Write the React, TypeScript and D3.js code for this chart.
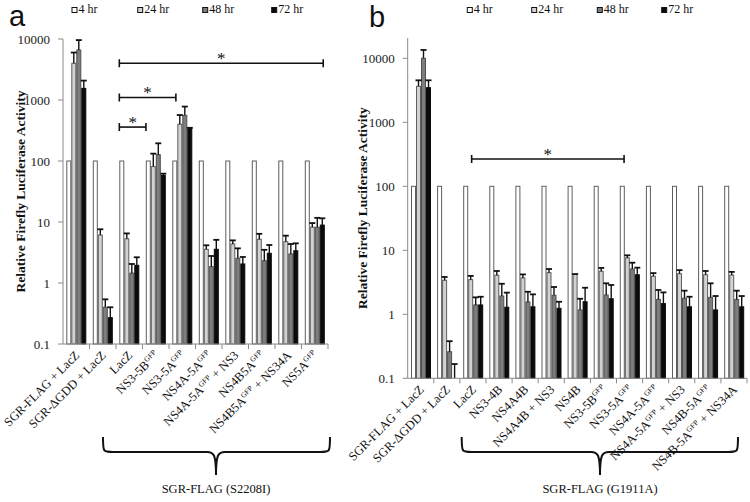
import React from "react";
import * as d3 from "d3";

// ---------- shared ----------
const seriesLabels = ["4 hr", "24 hr", "48 hr", "72 hr"];
const seriesFill = ["#ffffff", "#d2d2d2", "#7e7e7e", "#0b0b0b"];
const seriesStroke = ["#5e5e5e", "#5e5e5e", "#505050", "#0b0b0b"];
const yTicks = [0.1, 1, 10, 100, 1000, 10000];
const yTickLabels = ["0.1", "1", "10", "100", "1000", "10000"];
const yTitle = "Relative Firefly Luciferase Activity";

// ---------- panel a ----------
const categoriesA = [
  "SGR-FLAG + LacZ",
  "SGR-\u0394GDD + LacZ",
  "LacZ",
  "NS3-5B{GFP}",
  "NS3-5A{GFP}",
  "NS4A-5A{GFP}",
  "NS4A-5A{GFP} + NS3",
  "NS4B5A{GFP}",
  "NS4B5A{GFP} + NS34A",
  "NS5A{GFP}",
];
const hr4A = [100, 100, 100, 100, 100, 100, 100, 100, 100, 100];
const hr24A = [4000, 6.1, 5.3, 81, 400, 3.57, 4.36, 5.2, 4.75, 8.2];
const hr48A = [6600, 0.4, 1.45, 127, 560, 1.85, 2.54, 2.32, 2.99, 8.2];
const hr72A = [1550, 0.27, 1.95, 58, 340, 3.57, 2.05, 3.07, 3.38, 8.9];
const err24A = [6000, 7.6, 6.5, 132, 567, 4.15, 5.0, 6.4, 5.97, 9.6];
const err48A = [9600, 0.54, 2.05, 195, 780, 2.77, 3.7, 3.5, 4.36, 11.7];
const err72A = [2080, 0.4, 2.64, 62, 350, 5.1, 2.67, 4.2, 4.47, 11.5];
// significance brackets: [start category position, end category position, height value]
const bracketsA = [
  [2.125, 9.82, 4000],
  [2.125, 4.26, 1100],
  [2.125, 3.13, 360],
];
const groupLabelA = "SGR-FLAG (S2208I)";

// ---------- panel b ----------
const categoriesB = [
  "SGR-FLAG + LacZ",
  "SGR-\u0394GDD + LacZ",
  "LacZ",
  "NS3-4B",
  "NS4A4B",
  "NS4A4B + NS3",
  "NS4B",
  "NS3-5B{GFP}",
  "NS3-5A{GFP}",
  "NS4A-5A{GFP}",
  "NS4A-5A{GFP} + NS3",
  "NS4B-5A{GFP}",
  "NS4B-5A{GFP} + NS34A",
];
const hr4B = [100, 100, 100, 100, 100, 100, 100, 100, 100, 100, 100, 100, 100];
const hr24B = [3650, 3.4, 3.48, 4.07, 3.7, 4.47, 4.2, 4.7, 7.6, 3.93, 4.3, 4.15, 4.1];
const hr48B = [10000, 0.26, 1.4, 1.93, 1.56, 1.98, 1.17, 2.0, 5.1, 1.71, 1.78, 1.84, 1.71];
const hr72B = [3480, 0.1, 1.4, 1.29, 1.31, 1.24, 1.57, 1.75, 4.15, 1.47, 1.31, 1.17, 1.31];
const err24B = [4530, 3.83, 3.98, 4.75, 4.2, 5.1, 4.25, 5.3, 8.35, 4.4, 4.9, 4.75, 4.6];
const err48B = [13500, 0.38, 1.84, 3.0, 2.25, 2.67, 1.75, 3.05, 6.4, 2.4, 2.34, 3.05, 2.34];
const err72B = [4530, 0.167, 1.88, 2.18, 2.05, 1.57, 2.6, 2.87, 5.35, 2.2, 1.88, 1.93, 1.93];
const bracketsB = [[2.45, 8.29, 267]];
const groupLabelB = "SGR-FLAG (G1911A)";

const SERIF = "'Liberation Serif', 'Times New Roman', serif";
const SANS = "'Liberation Sans', Arial, sans-serif";
const LABEL_SIZE = 12.5;
const SUP_SIZE = 7.5;

function parseLabel(s: string) {
  const parts: { t: string; sup: boolean }[] = [];
  const re = /\{([^}]*)\}/g;
  let last = 0;
  let m;
  while ((m = re.exec(s)) !== null) {
    if (m.index > last) parts.push({ t: s.slice(last, m.index), sup: false });
    parts.push({ t: m[1], sup: true });
    last = m.index + m[0].length;
  }
  if (last < s.length) parts.push({ t: s.slice(last), sup: false });
  return parts;
}

function LabelText({ label, x, y }: { label: string; x: number; y: number }) {
  const parts = parseLabel(label);
  let shifted = false;
  return (
    <text
      transform={`translate(${x},${y}) rotate(-45)`}
      textAnchor="end"
      fontFamily={SERIF}
      fontSize={LABEL_SIZE}
      fill="#111"
    >
      {parts.map((p, i) => {
        let dy: number | undefined = undefined;
        if (p.sup && !shifted) {
          dy = -4.5;
          shifted = true;
        } else if (!p.sup && shifted) {
          dy = 4.5;
          shifted = false;
        }
        return (
          <tspan key={i} dy={dy} fontSize={p.sup ? SUP_SIZE : LABEL_SIZE}>
            {p.t}
          </tspan>
        );
      })}
    </text>
  );
}

type PanelProps = {
  letter: string;
  letterX: number;
  letterY: number;
  categories: string[];
  series: number[][];
  errs: (number[] | null)[];
  brackets: number[][];
  groupLabel: string;
  x0: number;
  x1: number;
  yMin: number; // pixel for 0.1
  yMax: number; // pixel for 10000
  axisTop: number;
  legendX: number[];
  titleX: number;
  braceX: [number, number];
  braceMidX: number;
};

function Panel(p: PanelProps) {
  const y = d3.scaleLog().domain([0.1, 10000]).range([p.yMin, p.yMax]);
  const x = d3
    .scaleBand<number>()
    .domain(p.categories.map((_, i) => i))
    .range([p.x0, p.x1])
    .paddingInner(0)
    .paddingOuter(0);
  const bw = x.bandwidth();
  const xs = d3
    .scaleBand<number>()
    .domain([0, 1, 2, 3])
    .range([3.3, 23.3])
    .padding(0);
  const barW = xs.bandwidth();
  const posX = (pos: number) => p.x0 + pos * bw;

  const base = 0.1;
  const titleY = (p.axisTop + p.yMin) / 2;

  const [bx1, bx2] = p.braceX;
  const bTop = 437;
  const bMid = 452;
  const bTip = 475;
  const bm = p.braceMidX;
  const bracePath =
    `M${bx1},${bTop} C${bx1},${bMid} ${bx1},${bMid} ${bx1 + 10},${bMid} ` +
    `L${bm - 9},${bMid} C${bm - 2},${bMid} ${bm},${bMid + 3} ${bm},${bTip} ` +
    `M${bx2},${bTop} C${bx2},${bMid} ${bx2},${bMid} ${bx2 - 10},${bMid} ` +
    `L${bm + 9},${bMid} C${bm + 2},${bMid} ${bm},${bMid + 3} ${bm},${bTip}`;

  return (
    <g>
      {/* panel letter */}
      <text x={p.letterX} y={p.letterY} fontFamily={SANS} fontSize={29} fill="#111">
        {p.letter}
      </text>
      {/* legend */}
      {seriesLabels.map((s, i) => (
        <g key={s}>
          <rect
            x={p.legendX[i]}
            y={7.5}
            width={5}
            height={5}
            fill={seriesFill[i]}
            stroke="#111"
            strokeWidth={1}
          />
          <text x={p.legendX[i] + 6.5} y={12.8} fontFamily={SERIF} fontSize={12} fill="#111">
            {s}
          </text>
        </g>
      ))}
      {/* y axis title */}
      <text
        transform={`translate(${p.titleX},${titleY}) rotate(-90)`}
        textAnchor="middle"
        fontFamily={SERIF}
        fontWeight="bold"
        fontSize={13.5}
        fill="#111"
      >
        {yTitle}
      </text>
      {/* y axis */}
      <line x1={p.x0} x2={p.x0} y1={p.axisTop} y2={p.yMin} stroke="#8a8a8a" strokeWidth={1} />
      {yTicks.map((t, i) => (
        <g key={t}>
          <line x1={p.x0 - 5} x2={p.x0} y1={y(t)} y2={y(t)} stroke="#8a8a8a" strokeWidth={1} />
          <text
            x={p.x0 - 13}
            y={y(t) + 4.5}
            textAnchor="end"
            fontFamily={SERIF}
            fontSize={13}
            fill="#222"
          >
            {yTickLabels[i]}
          </text>
        </g>
      ))}
      {/* bars */}
      {p.categories.map((_, ci) =>
        p.series.map((vals, si) => {
          const v = vals[ci];
          const top = y(Math.max(v, base));
          const h = y(base) - top;
          if (h < 0.5) return null;
          const bx = (x(ci) as number) + (xs(si) as number);
          return (
            <rect
              key={`b${ci}-${si}`}
              x={bx + 0.5}
              y={top}
              width={barW - 1}
              height={h}
              fill={seriesFill[si]}
              stroke={seriesStroke[si]}
              strokeWidth={1}
            />
          );
        })
      )}
      {/* error bars */}
      {p.categories.map((_, ci) =>
        p.errs.map((ev, si) => {
          if (!ev) return null;
          const v = p.series[si][ci];
          const e = ev[ci];
          const cx = (x(ci) as number) + (xs(si) as number) + barW / 2;
          const y1 = y(Math.max(v, base));
          const y2 = y(e);
          return (
            <g key={`e${ci}-${si}`} stroke="#111" strokeWidth={1.4}>
              <line x1={cx} x2={cx} y1={y1} y2={y2} />
              <line x1={cx - 3} x2={cx + 3} y1={y2} y2={y2} strokeWidth={1.8} />
            </g>
          );
        })
      )}
      {/* x axis */}
      <line x1={p.x0} x2={p.x1} y1={p.yMin} y2={p.yMin} stroke="#8a8a8a" strokeWidth={1} />
      {p.categories.map((_, ci) => (
        <line
          key={`t${ci}`}
          x1={(x(ci) as number) + bw}
          x2={(x(ci) as number) + bw}
          y1={p.yMin}
          y2={p.yMin + 5}
          stroke="#8a8a8a"
          strokeWidth={1}
        />
      ))}
      {p.categories.map((c, ci) => (
        <LabelText key={`l${ci}`} label={c} x={(x(ci) as number) + bw / 2 + 4} y={p.yMin + 12} />
      ))}
      {/* significance brackets */}
      {p.brackets.map(([a, b, v], i) => {
        const xa = posX(a);
        const xb = posX(b);
        const yy = y(v);
        return (
          <g key={`s${i}`} stroke="#111" strokeWidth={1.6}>
            <line x1={xa} x2={xb} y1={yy} y2={yy} />
            <line x1={xa} x2={xa} y1={yy - 4} y2={yy + 4} />
            <line x1={xb} x2={xb} y1={yy - 4} y2={yy + 4} />
            <text
              x={(xa + xb) / 2}
              y={yy + 1}
              textAnchor="middle"
              fontFamily={SERIF}
              fontSize={17}
              stroke="none"
              fill="#111"
            >
              *
            </text>
          </g>
        );
      })}
      {/* brace */}
      <path d={bracePath} fill="none" stroke="#111" strokeWidth={2} />
      <text x={bm} y={493} textAnchor="middle" fontFamily={SERIF} fontSize={12.5} fill="#111">
        {p.groupLabel}
      </text>
    </g>
  );
}

export default function App() {
  return (
    <svg
      width={750}
      height={502}
      viewBox="0 0 750 502"
      style={{ position: "absolute", left: 0, top: 0, background: "#fff" }}
    >
      <rect x={0} y={0} width={750} height={502} fill="#fff" />
      <Panel
        letter="a"
        letterX={9}
        letterY={26}
        categories={categoriesA}
        series={[hr4A, hr24A, hr48A, hr72A]}
        errs={[null, err24A, err48A, err72A]}
        brackets={bracketsA}
        groupLabel={groupLabelA}
        x0={63}
        x1={328}
        yMin={344}
        yMax={39}
        axisTop={39}
        legendX={[72, 137.7, 202.7, 271.7]}
        titleX={25}
        braceX={[103, 330]}
        braceMidX={216}
      />
      <Panel
        letter="b"
        letterX={369}
        letterY={27}
        categories={categoriesB}
        series={[hr4B, hr24B, hr48B, hr72B]}
        errs={[null, err24B, err48B, err72B]}
        brackets={bracketsB}
        groupLabel={groupLabelB}
        x0={407.7}
        x1={747}
        yMin={378.3}
        yMax={58.3}
        axisTop={38}
        legendX={[467.3, 531.7, 597.3, 661.7]}
        titleX={367}
        braceX={[461.7, 738]}
        braceMidX={600}
      />
    </svg>
  );
}
